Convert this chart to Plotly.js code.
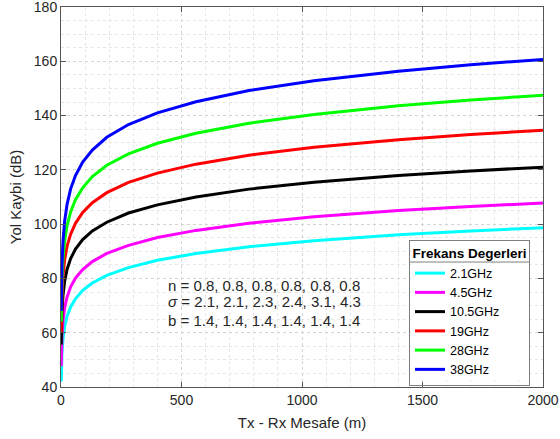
<!DOCTYPE html>
<html>
<head>
<meta charset="utf-8">
<script src="https://cdn.plot.ly/plotly-3.0.1.min.js"></script>
<style>
html,body{margin:0;padding:0;background:#fff;}
#chart{width:560px;height:439px;}
</style>
</head>
<body>
<div id="chart"></div>
<script>
const distance = [1, 2, 4, 8, 15, 25, 40, 60, 90, 130, 190, 280, 400, 560, 780, 1050, 1400, 1700, 2000];

// Path loss (dB) per frequency
const loss_2_1GHz  = [42.0, 47.2, 52.3, 57.5, 62.2, 66.0, 69.5, 72.5, 75.6, 78.3, 81.1, 84.0, 86.7, 89.2, 91.7, 93.9, 96.1, 97.5, 98.7];
const loss_4_5GHz  = [47.7, 53.2, 58.7, 64.1, 69.1, 73.1, 76.9, 80.1, 83.3, 86.2, 89.2, 92.2, 95.1, 97.7, 100.3, 102.7, 105.0, 106.5, 107.8];
const loss_10_5GHz = [55.6, 61.6, 67.5, 73.5, 78.9, 83.3, 87.3, 90.8, 94.3, 97.5, 100.7, 104.1, 107.1, 110.0, 112.9, 115.4, 117.9, 119.6, 121.0];
const loss_19GHz   = [60.3, 67.1, 73.8, 80.6, 86.8, 91.8, 96.3, 100.3, 104.3, 107.9, 111.6, 115.4, 118.8, 122.1, 125.4, 128.3, 131.1, 133.0, 134.6];
const loss_28GHz   = [64.0, 71.6, 79.2, 86.8, 93.8, 99.4, 104.5, 109.0, 113.4, 117.5, 121.7, 125.9, 129.8, 133.5, 137.2, 140.4, 143.6, 145.7, 147.5];
const loss_38GHz   = [68.0, 76.5, 84.9, 93.3, 101.0, 107.2, 113.0, 117.9, 122.9, 127.3, 132.0, 136.7, 141.0, 145.1, 149.2, 152.8, 156.3, 158.7, 160.7];

const seriesNames = ["2.1GHz", "4.5GHz", "10.5GHz", "19GHz", "28GHz", "38GHz"];
const seriesColors = ["#00ffff", "#ff00ff", "#000000", "#ff0000", "#00ff00", "#0000ff"];
const seriesValues = [loss_2_1GHz, loss_4_5GHz, loss_10_5GHz, loss_19GHz, loss_28GHz, loss_38GHz];

const paramLines = [
  "n = 0.8, 0.8, 0.8, 0.8, 0.8, 0.8",
  "<i>σ</i> = 2.1, 2.1, 2.3, 2.4, 3.1, 4.3",
  "b = 1.4, 1.4, 1.4, 1.4, 1.4, 1.4"
];

const xTicks = [0, 500, 1000, 1500, 2000];
const yTicks = [40, 60, 80, 100, 120, 140, 160, 180];

const traces = seriesValues.map((v, i) => ({
  x: distance,
  y: v,
  type: "scatter",
  mode: "lines",
  name: seriesNames[i],
  line: {color: seriesColors[i], width: 3}
}));

const FONT = "Liberation Sans, Arial, sans-serif";
const axisCommon = {
  showline: true,
  linecolor: "#555555",
  linewidth: 1,
  mirror: "ticks",
  ticks: "inside",
  ticklen: 5,
  tickcolor: "#555555",
  tickfont: {family: FONT, size: 14, color: "#262626"},
  ticklabeloverflow: "allow",
  showgrid: true,
  gridcolor: "#d4d4d4",
  griddash: "dot",
  gridwidth: 1,
  zeroline: false
};

const paramAnnY = [0.268, 0.2237, 0.176];

// legend box geometry (paper coords)
const LX0 = 0.724, LX1 = 0.973, LY1 = 0.387, LY0 = 0.016, LSEP = 0.3289;

const layout = {
  width: 560,
  height: 439,
  margin: {l: 61, r: 17, t: 7, b: 52},
  paper_bgcolor: "#ffffff",
  plot_bgcolor: "#ffffff",
  showlegend: true,
  xaxis: Object.assign({}, axisCommon, {
    range: [0, 2000],
    tickvals: xTicks,
    ticktext: xTicks.map(String),
    minor: {dtick: 100, showgrid: true, gridcolor: "#e6e6e6", griddash: "dot", ticks: ""},
    title: {text: "Tx - Rx Mesafe (m)", font: {family: FONT, size: 15, color: "#262626"}, standoff: 10}
  }),
  yaxis: Object.assign({}, axisCommon, {
    range: [40, 180],
    tickvals: yTicks,
    ticktext: yTicks.map(String),
    minor: {dtick: 5, showgrid: true, gridcolor: "#e6e6e6", griddash: "dot", ticks: ""},
    title: {text: "Yol Kaybi (dB)", font: {family: FONT, size: 15, color: "#262626"}, standoff: 8}
  }),
  legend: {
    x: LX1, xanchor: "right",
    y: LY1, yanchor: "top",
    bgcolor: "rgba(0,0,0,0)",
    bordercolor: "#7f7f7f",
    borderwidth: 1,
    font: {family: FONT, size: 12.5, color: "#000000"},
    title: {text: "<b>Frekans Degerleri</b>", side: "top center", font: {family: FONT, size: 13.5, color: "#000000"}},
    tracegroupgap: 0
  },
  shapes: [
    {type: "rect", xref: "paper", yref: "paper", layer: "above",
     x0: LX0 + 0.002, x1: LX1 - 0.002, y0: LY0 + 0.003, y1: LY1 - 0.003,
     fillcolor: "#ffffff", line: {width: 0}},
    {type: "path", xref: "paper", yref: "paper", layer: "above",
     path: "M" + LX0 + "," + LSEP + " L" + LX1 + "," + LSEP,
     line: {color: "#7f7f7f", width: 1}}
  ],
  annotations: paramLines.map((t, i) => ({
    xref: "paper", yref: "paper",
    x: 0.2178, y: paramAnnY[i],
    xanchor: "left", yanchor: "middle",
    align: "left",
    showarrow: false,
    text: t,
    font: {family: FONT, size: 15, color: "#262626"}
  }))
};

Plotly.newPlot("chart", traces, layout, {displayModeBar: false, staticPlot: true});
</script>
</body>
</html>
